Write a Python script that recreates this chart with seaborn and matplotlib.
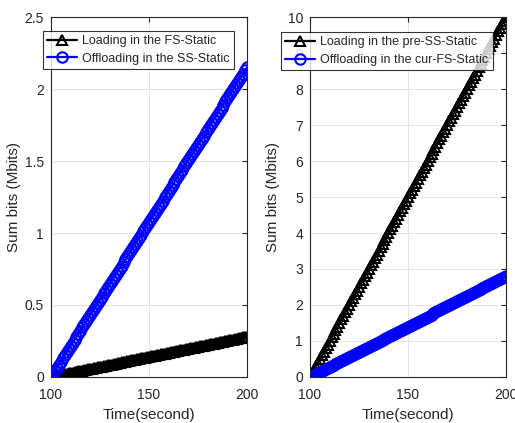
import numpy as np
import pandas as pd
import matplotlib
matplotlib.use('Agg')
import matplotlib.pyplot as plt
import seaborn as sns

# datos (un punto por segundo)
tiempo = np.arange(100, 201, 1)

izq_carga = [0, .0028, .0056, .0084, .0112, .014, .0168, .0196, .0224, .0252,
             .028, .0308, .0336, .0364, .0392, .042, .0448, .0476, .0504, .0532,
             .056, .0588, .0616, .0644, .0672, .07, .0728, .0756, .0784, .0812,
             .084, .0868, .0896, .0924, .0952, .098, .1008, .1036, .1064, .1092,
             .112, .1148, .1176, .1204, .1232, .126, .1288, .1316, .1344, .1372,
             .14, .1428, .1456, .1484, .1512, .154, .1568, .1596, .1624, .1652,
             .168, .1708, .1736, .1764, .1792, .182, .1848, .1876, .1904, .1932,
             .196, .1988, .2016, .2044, .2072, .21, .2128, .2156, .2184, .2212,
             .224, .2268, .2296, .2324, .2352, .238, .2408, .2436, .2464, .2492,
             .252, .2548, .2576, .2604, .2632, .266, .2688, .2716, .2744, .2772,
             .28]
izq_descarga = [0, .0215, .043, .0645, .086, .1075, .129, .1505, .172, .1935,
                .215, .2365, .258, .2795, .301, .3225, .344, .3655, .387, .4085,
                .43, .4515, .473, .4945, .516, .5375, .559, .5805, .602, .6235,
                .645, .6665, .688, .7095, .731, .7525, .774, .7955, .817, .8385,
                .86, .8815, .903, .9245, .946, .9675, .989, 1.0105, 1.032, 1.0535,
                1.075, 1.0965, 1.118, 1.1395, 1.161, 1.1825, 1.204, 1.2255, 1.247, 1.2685,
                1.29, 1.3115, 1.333, 1.3545, 1.376, 1.3975, 1.419, 1.4405, 1.462, 1.4835,
                1.505, 1.5265, 1.548, 1.5695, 1.591, 1.6125, 1.634, 1.6555, 1.677, 1.6985,
                1.72, 1.7415, 1.763, 1.7845, 1.806, 1.8275, 1.849, 1.8705, 1.892, 1.9135,
                1.935, 1.9565, 1.978, 1.9995, 2.021, 2.0425, 2.064, 2.0855, 2.107, 2.1285,
                2.15]
der_carga = [0, .1, .2, .3, .4, .5, .6, .7, .8, .9,
             1.0, 1.1, 1.2, 1.3, 1.4, 1.5, 1.6, 1.7, 1.8, 1.9,
             2.0, 2.1, 2.2, 2.3, 2.4, 2.5, 2.6, 2.7, 2.8, 2.9,
             3.0, 3.1, 3.2, 3.3, 3.4, 3.5, 3.6, 3.7, 3.8, 3.9,
             4.0, 4.1, 4.2, 4.3, 4.4, 4.5, 4.6, 4.7, 4.8, 4.9,
             5.0, 5.1, 5.2, 5.3, 5.4, 5.5, 5.6, 5.7, 5.8, 5.9,
             6.0, 6.1, 6.2, 6.3, 6.4, 6.5, 6.6, 6.7, 6.8, 6.9,
             7.0, 7.1, 7.2, 7.3, 7.4, 7.5, 7.6, 7.7, 7.8, 7.9,
             8.0, 8.1, 8.2, 8.3, 8.4, 8.5, 8.6, 8.7, 8.8, 8.9,
             9.0, 9.1, 9.2, 9.3, 9.4, 9.5, 9.6, 9.7, 9.8, 9.9,
             10.0]
der_descarga = [0, .028, .056, .084, .112, .14, .168, .196, .224, .252,
                .28, .308, .336, .364, .392, .42, .448, .476, .504, .532,
                .56, .588, .616, .644, .672, .7, .728, .756, .784, .812,
                .84, .868, .896, .924, .952, .98, 1.008, 1.036, 1.064, 1.092,
                1.12, 1.148, 1.176, 1.204, 1.232, 1.26, 1.288, 1.316, 1.344, 1.372,
                1.4, 1.428, 1.456, 1.484, 1.512, 1.54, 1.568, 1.596, 1.624, 1.652,
                1.68, 1.708, 1.736, 1.764, 1.792, 1.82, 1.848, 1.876, 1.904, 1.932,
                1.96, 1.988, 2.016, 2.044, 2.072, 2.1, 2.128, 2.156, 2.184, 2.212,
                2.24, 2.268, 2.296, 2.324, 2.352, 2.38, 2.408, 2.436, 2.464, 2.492,
                2.52, 2.548, 2.576, 2.604, 2.632, 2.66, 2.688, 2.716, 2.744, 2.772,
                2.8]

leyenda_izq = ['Loading in the FS-Static', 'Offloading in the SS-Static']
leyenda_der = ['Loading in the pre-SS-Static', 'Offloading in the cur-FS-Static']

sns.set_style('white')
plt.rcParams['font.family'] = ['Liberation Sans', 'DejaVu Sans']

fig = plt.figure(figsize=(5.15, 4.23), dpi=100)
W, H = 515, 423
ax1 = fig.add_axes([51 / W, 1 - 377 / H, 196 / W, 360 / H])
ax2 = fig.add_axes([310 / W, 1 - 377 / H, 196 / W, 360 / H])


def dibujar(ax, carga, descarga, nombres, ymax, yticks, yetiq, leg_xy):
    sns.lineplot(x=tiempo, y=carga, ax=ax, color='black', marker='^', markersize=7.5,
                 markerfacecolor='none', markeredgecolor='black', markeredgewidth=1.5,
                 linewidth=1.6, label=nombres[0])
    sns.lineplot(x=tiempo, y=descarga, ax=ax, color='blue', marker='o', markersize=7.5,
                 markerfacecolor='none', markeredgecolor='blue', markeredgewidth=1.5,
                 linewidth=1.6, label=nombres[1])
    ax.set_xlim(100, 200)
    ax.set_ylim(0, ymax)
    ax.set_xticks([100, 150, 200])
    ax.set_yticks(yticks)
    ax.set_yticklabels(yetiq)
    ax.grid(True, color='#e3e3e3', linewidth=0.7)
    ax.tick_params(direction='in', length=3.5, labelsize=10, top=True, right=True,
                   colors='#262626')
    ax.tick_params(axis='x', pad=8)
    ax.tick_params(axis='y', pad=5)
    for s in ax.spines.values():
        s.set_color('#262626')
        s.set_linewidth(0.8)
    ax.set_xlabel('Time(second)', fontsize=11, color='#262626', labelpad=4)
    ax.set_ylabel('Sum bits (Mbits)', fontsize=11, color='#262626')
    # etiqueta del eje y en la misma posicion que la original
    ax.yaxis.set_label_coords(-0.155, 0.5)
    leg = ax.legend(loc='upper left', bbox_to_anchor=leg_xy, bbox_transform=fig.transFigure,
                    fontsize=9, frameon=True, fancybox=False, edgecolor='black',
                    borderaxespad=0, handlelength=2.4, borderpad=0.35, labelspacing=0.45,
                    handletextpad=0.4)
    leg.get_frame().set_linewidth(0.8)


dibujar(ax1, izq_carga, izq_descarga, leyenda_izq, 2.5,
        [0, 0.5, 1, 1.5, 2, 2.5], ['0', '0.5', '1', '1.5', '2', '2.5'],
        (42.7 / W, 1 - 30.7 / H))
dibujar(ax2, der_carga, der_descarga, leyenda_der, 10,
        list(range(0, 11)), [str(v) for v in range(0, 11)],
        (280.7 / W, 1 - 32 / H))

fig.savefig('out.png', dpi=100)
